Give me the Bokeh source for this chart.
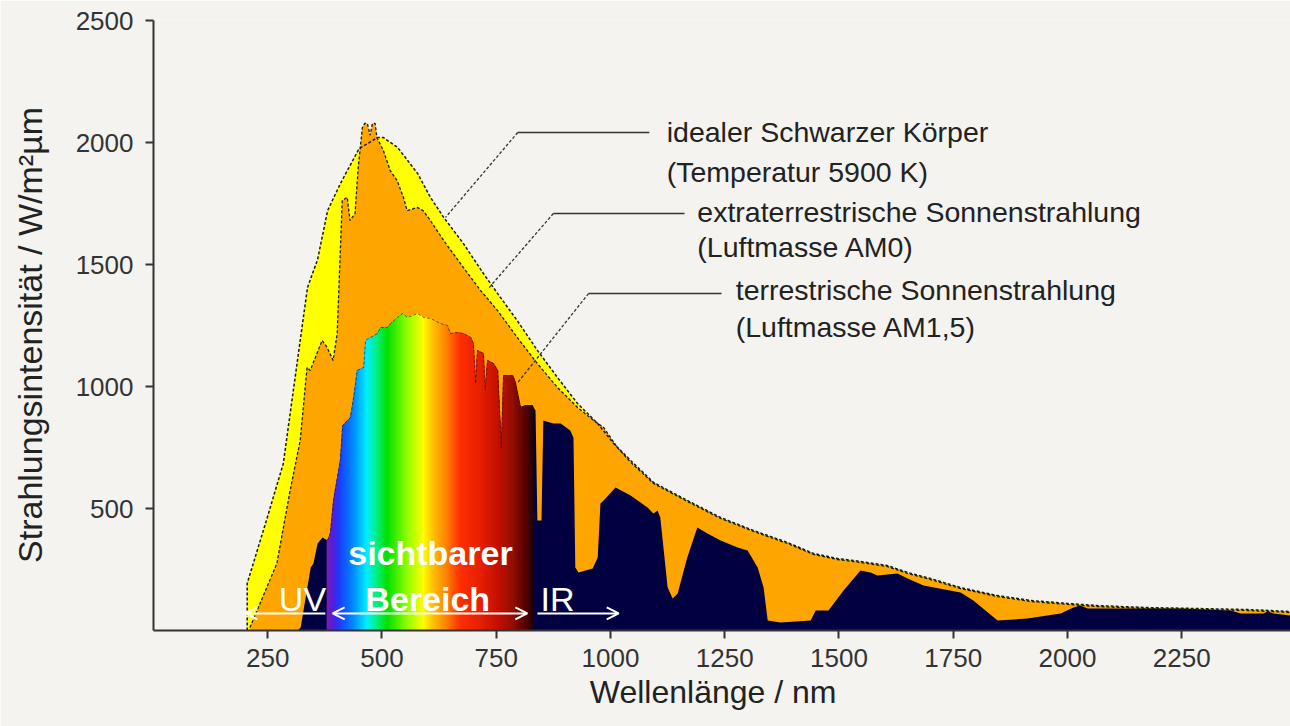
import numpy as np
from bokeh.plotting import figure
from bokeh.models import Range1d, FixedTicker, Arrow, OpenHead, Label
from bokeh.embed import file_html
from bokeh.resources import INLINE

# ---------------- data ----------------
# ideal black body (5900 K), W/m²µm vs wavelength nm
wl_bb = [205, 205, 249, 284, 306, 337, 359, 381, 409, 450, 490, 503, 534, 578, 606, 635,
         678, 722, 753, 796, 840, 884, 928, 972, 1007, 1044, 1094, 1168, 1241, 1313, 1387,
         1444, 1497, 1547, 1606, 1650, 1700, 1766, 1847, 1919, 2000, 2066, 2175, 2284, 2394, 2488]
val_bb = [0, 193, 463, 684, 984, 1406, 1520, 1721, 1832, 1975, 2020, 2020, 1980, 1873, 1775, 1693,
          1586, 1463, 1381, 1270, 1148, 1037, 930, 848, 766, 697, 607, 533, 463, 410, 361,
          316, 295, 283, 266, 238, 213, 176, 143, 123, 111, 102, 94, 90, 86, 78]

# extraterrestrial sun radiation (AM0)
wl_am0 = [211, 270, 299, 321, 336, 343, 369, 380, 393, 402, 413, 424, 430, 441, 448, 457, 462,
          468, 474, 479, 485, 489, 503, 518, 533, 547, 555, 577, 590, 606, 635, 678, 716, 753,
          796, 840, 884, 928, 963, 985, 1015, 1044, 1094, 1168, 1241, 1313, 1387, 1444, 1497,
          1547, 1606, 1650, 1700, 1766, 1847, 1919, 2000, 2066, 2175, 2284, 2394, 2488]
val_am0 = [12, 275, 574, 779, 1078, 1066, 1189, 1160, 1107, 1217, 1762, 1775, 1680, 1709, 1898, 2061, 2078,
           2078, 2030, 2078, 2078, 2020, 1967, 1885, 1844, 1775, 1721, 1734, 1721, 1680, 1598, 1488, 1393, 1311,
           1201, 1094, 996, 914, 861, 832, 750, 690, 603, 529, 459, 406, 357, 312, 291,
           279, 262, 234, 209, 172, 139, 119, 107, 98, 90, 86, 82, 74]

# terrestrial sun radiation (AM1.5)
wl_am15 = [315, 322, 344, 350, 359, 370, 381, 387, 394, 409, 414, 431, 438, 446, 460, 464, 475,
           490, 497, 512, 519, 534, 545, 556, 578, 591, 606, 628, 643, 650, 665, 678, 694, 700,
           705, 709, 722, 726, 731, 744, 753, 761, 766, 786, 792, 803, 814, 829, 836, 840, 849,
           853, 875, 891, 912, 919, 923, 930, 961, 972, 978, 985, 1011, 1044, 1081, 1094, 1103,
           1109, 1125, 1136, 1147, 1168, 1190, 1212, 1241, 1278, 1300, 1322, 1335, 1344, 1372,
           1438, 1449, 1477, 1510, 1547, 1569, 1584, 1628, 1650, 1685, 1766, 1794, 1847, 1912,
           1985, 2013, 2028, 2044, 2101, 2247, 2357, 2379, 2429, 2438, 2451, 2488]
val_am15 = [0, 12, 258, 275, 357, 381, 369, 398, 533, 697, 840, 873, 955, 1066, 1078, 1189, 1201,
            1217, 1242, 1242, 1258, 1283, 1299, 1283, 1299, 1283, 1279, 1258, 1250, 1217, 1221, 1217, 1201, 1176,
            1012, 1148, 1135, 984, 1107, 1094, 1066, 750, 1045, 1045, 1016, 914, 922, 922, 902, 451, 451,
            861, 848, 848, 820, 790, 258, 238, 254, 299, 520, 533, 586, 553, 504, 480, 492,
            463, 176, 131, 152, 299, 422, 398, 369, 340, 328, 258, 176, 41, 33,
            41, 82, 82, 164, 246, 238, 225, 234, 213, 184, 156, 123, 41, 49,
            70, 94, 102, 90, 90, 90, 82, 70, 70, 78, 70, 61]

x_ticks = [250, 500, 750, 1000, 1250, 1500, 1750, 2000, 2250]
y_ticks = [500, 1000, 1500, 2000, 2500]

# visible band and its colour stops (style)
vis_range = (380, 830)
stop_nm = [380, 395, 409, 440, 468, 490, 512, 556, 591, 613, 643, 672, 716, 759, 788, 818, 832]
stop_col = ["#7a20b0", "#5020e0", "#1a40ff", "#0090ff", "#00f0ff", "#00f080", "#00e000", "#90ff00",
            "#ffff00", "#ffc000", "#ff8000", "#ff3000", "#e82000", "#c01000", "#901000", "#500000", "#200000"]

# annotation texts
labels = [
    ("idealer Schwarzer Körper", 1123, 2041),
    ("(Temperatur 5900 K)", 1123, 1881),
    ("extraterrestrische Sonnenstrahlung", 1190, 1717),
    ("(Luftmasse AM0)", 1190, 1570),
    ("terrestrische Sonnenstrahlung", 1274, 1397),
    ("(Luftmasse AM1,5)", 1274, 1242),
]
# leader lines (horizontal end, knee, target on curve)
leaders = [
    ([1085, 797, 639], [2041, 2041, 1693]),
    ([1162, 875, 733], [1709, 1709, 1402]),
    ([1243, 952, 797], [1381, 1381, 1016]),
]

BG = "#f4f3ef"
FONT = "Liberation Sans"

p = figure(width=1290, height=726, x_range=Range1d(0, 2488), y_range=Range1d(0, 2500),
           output_backend="svg", toolbar_location=None,
           min_border_left=153, min_border_right=0, min_border_top=20, min_border_bottom=96)
p.background_fill_color = BG
p.border_fill_color = BG
p.outline_line_color = None
p.grid.visible = False

# fills
p.varea(x=wl_bb, y1=0, y2=val_bb, fill_color="#ffff00")
p.varea(x=wl_am0, y1=0, y2=val_am0, fill_color="#ffa500")
p.varea(x=wl_am15, y1=0, y2=val_am15, fill_color="#000040")

# rainbow slices following the AM1.5 outline
def hex2rgb(h):
    return [int(h[i:i + 2], 16) for i in (1, 3, 5)]

rgb = np.array([hex2rgb(c) for c in stop_col], dtype=float)
edges = np.arange(vis_range[0], vis_range[1] + 0.01, 2.0)
inner = [w for w in wl_am15 if vis_range[0] < w < vis_range[1]]
edges = np.unique(np.concatenate([edges, inner]))
tops = np.interp(edges, wl_am15, val_am15)
xs, ys, cols = [], [], []
for i in range(len(edges) - 1):
    a, b = edges[i], edges[i + 1]
    xs.append([a, a, b, b])
    ys.append([0, tops[i], tops[i + 1], 0])
    m = 0.5 * (a + b)
    c = [int(round(np.interp(m, stop_nm, rgb[:, k]))) for k in range(3)]
    cols.append("#%02x%02x%02x" % tuple(c))
p.patches(xs=xs, ys=ys, fill_color=cols, line_color=cols, line_width=1)

# outlines
p.line(wl_bb, val_bb, line_color="#1a1a1a", line_width=1.5, line_dash="3 2")
p.line(wl_am0, val_am0, line_color="#1a1a1a", line_width=1.3, line_dash="3 2")
vis_mask = [(vis_range[0] - 5) <= w <= (vis_range[1] + 3) for w in wl_am15]
p.line([w for w, k in zip(wl_am15, vis_mask) if k], [v for v, k in zip(val_am15, vis_mask) if k],
       line_color="#1a1a1a", line_width=1, line_dash="3 2", line_alpha=0.6)

# leader lines
for lx, ly in leaders:
    p.line(lx[:2], ly[:2], line_color="#333333", line_width=1.5)
    p.line(lx[1:], ly[1:], line_color="#333333", line_width=1.3, line_dash="3 2")

for t, x, y in labels:
    p.add_layout(Label(x=x, y=y, text=t, text_font=FONT, text_font_size="28.5px",
                       text_color="#222222", text_align="left", text_baseline="middle"))

# white region labels
for t, x, y, style in [("sichtbarer", 606, 316, "bold"), ("Bereich", 600, 131, "bold"),
                       ("UV", 326, 131, "normal"), ("IR", 884, 131, "normal")]:
    p.add_layout(Label(x=x, y=y, text=t, text_font=FONT, text_font_size="34px", text_font_style=style,
                       text_color="white", text_align="center", text_baseline="middle"))

# white arrows
def head():
    return OpenHead(size=12, line_color="white", line_width=2)

p.add_layout(Arrow(end=head(), x_start=376, y_start=70, x_end=201, y_end=70,
                   line_color="white", line_width=2))
p.add_layout(Arrow(start=head(), end=head(), x_start=392, y_start=70, x_end=818, y_end=70,
                   line_color="white", line_width=2))
p.add_layout(Arrow(end=head(), x_start=840, y_start=70, x_end=1018, y_end=70,
                   line_color="white", line_width=2))

# axes
for ax in (p.xaxis[0], p.yaxis[0]):
    ax.axis_line_color = "#333333"
    ax.axis_line_width = 2
    ax.major_tick_line_color = "#333333"
    ax.major_tick_line_width = 2
    ax.major_tick_in = 0
    ax.major_tick_out = 8
    ax.minor_tick_line_color = None
    ax.major_label_text_font = FONT
    ax.major_label_text_font_size = "26px"
    ax.major_label_text_color = "#333333"
    ax.axis_label_text_font = FONT
    ax.axis_label_text_font_style = "normal"
    ax.axis_label_text_color = "#222222"

p.xaxis.ticker = FixedTicker(ticks=x_ticks)
p.yaxis.ticker = FixedTicker(ticks=y_ticks)
p.xaxis.major_label_standoff = 10
p.yaxis.major_label_standoff = 12
p.xaxis.axis_label = "Wellenlänge  /  nm"
p.xaxis.axis_label_text_font_size = "32px"
p.xaxis.axis_label_standoff = 4
p.yaxis.axis_label = "Strahlungsintensität  /  W/m²µm"
p.yaxis.axis_label_text_font_size = "34px"
p.yaxis.axis_label_standoff = 24

open("out.html", "w").write(file_html(p, INLINE))
